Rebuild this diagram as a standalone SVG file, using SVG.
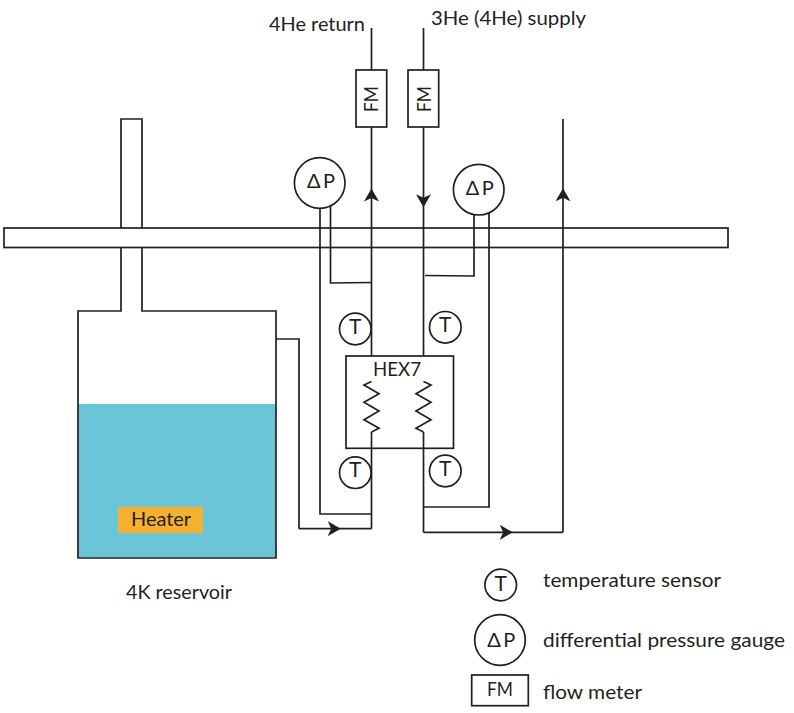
<svg xmlns="http://www.w3.org/2000/svg" width="794" height="713" viewBox="0 0 794 713">
<style>
text{font-family:"Lato","Open Sans","Liberation Sans",sans-serif;fill:#231f20;font-size:20px}
.s{fill:none;stroke:#231f20;stroke-width:1.7}
.w{fill:#fff;stroke:#231f20;stroke-width:1.7}
.a{marker-mid:url(#arr)}
.m{text-anchor:middle}
.t{font-size:21px}
</style>
<defs>
<marker id="arr" markerUnits="userSpaceOnUse" markerWidth="16" markerHeight="16" refX="13" refY="8" orient="auto">
<path d="M13 8L0 .5L3.500 8L0 15.500Z" fill="#231f20"/>
</marker>
</defs>
<rect width="794" height="713" fill="#fff"/>
<g id="reservoir">
<rect x="78.500" y="404" width="197" height="153.500" fill="#6ac5d8"/>
<path class="s" d="M121 228V119H142V228M121 248V311H78V558H276V311H142V248"/>
<rect x="118" y="507" width="85" height="26" fill="#f5b130"/>
<text x="131" y="525.700" textLength="60" lengthAdjust="spacingAndGlyphs">Heater</text>
<text x="126" y="599" textLength="106" lengthAdjust="spacingAndGlyphs">4K reservoir</text>
</g>
<g id="connectors">
<path class="s a" d="M371.500 356V188.600V28"/>
<path class="s" d="M371.500 432L379 428.300L364 419.700L379 411L364 402.300L379 393.700L364 385L371.500 381.500"/>
<path class="s" d="M276 339H299V528.700"/>
<path class="s a" d="M299 528.700H340.700H371.500"/>
<path class="s" d="M371.500 528.700V432"/>
<path class="s" d="M320 205V514H371.500"/>
<path class="s" d="M330.500 205V283L371.500 282.500"/>
<path class="s a" d="M423.500 28V207.300V356"/>
<path class="s" d="M423.500 381.500L431 385L416 393.700L431 402.300L416 411L431 419.700L416 428.300L423.500 432"/>
<path class="s" d="M423.500 432V532.300"/>
<path class="s a" d="M423.500 532.300H512.700H563"/>
<path class="s a" d="M563 532.300V188.300V119"/>
<path class="s" d="M474 212V276L425 275.500"/>
<path class="s" d="M489 212V507H423.500"/>
</g>
<g id="plate"><rect class="s" x="4" y="228" width="724" height="19.500"/></g>
<g id="hex7">
<rect class="s" x="346" y="356" width="107.500" height="92.300"/>
<text x="373" y="376" textLength="48" lengthAdjust="spacingAndGlyphs">HEX7</text>
</g>
<g id="fm1">
<rect class="w" x="356" y="70" width="30.700" height="57"/>
<text transform="translate(378.300 112) rotate(-90)" textLength="26" lengthAdjust="spacingAndGlyphs">FM</text>
</g>
<g id="fm2">
<rect class="w" x="408" y="70" width="30.700" height="57"/>
<text transform="translate(430.700 112) rotate(-90)" textLength="26" lengthAdjust="spacingAndGlyphs">FM</text>
</g>
<g id="dp1">
<circle class="w" cx="319.700" cy="183" r="25.300"/>
<text x="307" y="188" textLength="28">Δ P</text>
</g>
<g id="dp2">
<circle class="w" cx="478.700" cy="189.700" r="25.300"/>
<text x="465.700" y="195" textLength="28">Δ P</text>
</g>
<g id="t1"><circle class="s" cx="355.300" cy="329" r="15.800"/><text class="m t" x="355.300" y="333.500">T</text></g>
<g id="t2"><circle class="s" cx="445.300" cy="327.300" r="15.800"/><text class="m t" x="445.300" y="332">T</text></g>
<g id="t3"><circle class="s" cx="355.300" cy="472.700" r="15.800"/><text class="m t" x="355.300" y="477.300">T</text></g>
<g id="t4"><circle class="s" cx="445.300" cy="471" r="15.800"/><text class="m t" x="445.300" y="475.700">T</text></g>
<g id="labels">
<text x="269" y="31" textLength="96" lengthAdjust="spacingAndGlyphs">4He return</text>
<text x="431" y="25" textLength="155" lengthAdjust="spacingAndGlyphs">3He (4He) supply</text>
</g>
<g id="legend-t">
<circle class="s" cx="500.700" cy="585" r="15.800"/><text class="m t" x="500.700" y="590.700">T</text>
<text x="543" y="587" textLength="178" lengthAdjust="spacingAndGlyphs">temperature sensor</text>
</g>
<g id="legend-dp">
<circle class="s" cx="500" cy="640" r="25.300"/><text x="487.300" y="647" textLength="28">Δ P</text>
<text x="543" y="647" textLength="242" lengthAdjust="spacingAndGlyphs">differential pressure gauge</text>
</g>
<g id="legend-fm">
<rect class="s" x="471.700" y="675" width="56.600" height="30.700"/><text x="487" y="696" textLength="26" lengthAdjust="spacingAndGlyphs">FM</text>
<text x="543" y="699" textLength="99" lengthAdjust="spacingAndGlyphs">flow meter</text>
</g>
</svg>
